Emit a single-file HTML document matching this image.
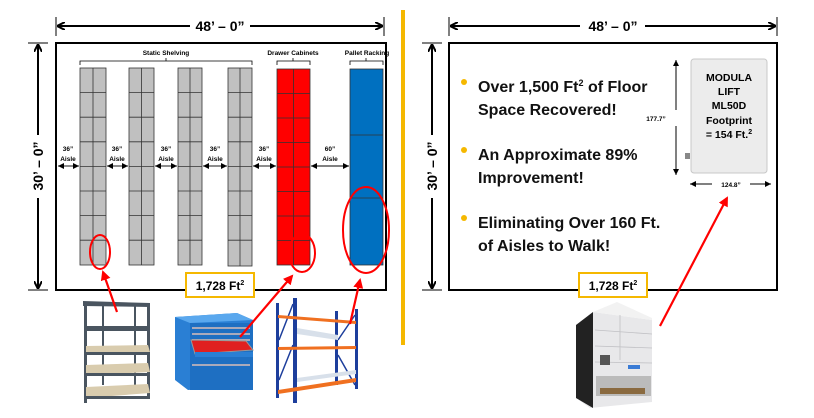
<!DOCTYPE html>
<html><head><meta charset="utf-8"><style>
html,body{margin:0;padding:0;background:#fff;width:814px;height:418px;overflow:hidden}
svg{display:block;font-family:"Liberation Sans",sans-serif}
</style></head><body>
<svg width="814" height="418" viewBox="0 0 814 418" xmlns="http://www.w3.org/2000/svg">
<defs>
<marker id="ah" markerWidth="8" markerHeight="8" refX="7" refY="4" orient="auto" markerUnits="userSpaceOnUse"><path d="M0,0 L8,4 L0,8" fill="none" stroke="#000" stroke-width="2"/></marker>
<marker id="sa" markerWidth="6" markerHeight="6" refX="6" refY="3" orient="auto" markerUnits="userSpaceOnUse"><path d="M0,0 L6,3 L0,6 Z" fill="#000"/></marker>
<marker id="ra" markerWidth="10" markerHeight="10" refX="8" refY="5" orient="auto" markerUnits="userSpaceOnUse"><path d="M0,0 L10,5 L0,10 Z" fill="#f00"/></marker>
</defs>

<rect x="401" y="10" width="4" height="335" fill="#f5b800"/>

<!-- LEFT dims -->
<line x1="56" y1="17" x2="56" y2="36" stroke="#000"/>
<line x1="384" y1="17" x2="384" y2="36" stroke="#000"/>
<path d="M190,26 L58,26" stroke="#000" stroke-width="2" marker-end="url(#ah)"/>
<path d="M250,26 L382,26" stroke="#000" stroke-width="2" marker-end="url(#ah)"/>
<text x="220" y="31" font-size="14" font-weight="bold" text-anchor="middle">48’ – 0”</text>
<line x1="28" y1="43" x2="48" y2="43" stroke="#000"/>
<line x1="28" y1="290" x2="48" y2="290" stroke="#000"/>
<path d="M38,135 L38,45" stroke="#000" stroke-width="2" marker-end="url(#ah)"/>
<path d="M38,198 L38,288" stroke="#000" stroke-width="2" marker-end="url(#ah)"/>
<text transform="translate(43,166) rotate(-90)" font-size="14" font-weight="bold" text-anchor="middle">30’ – 0”</text>

<rect x="56" y="43" width="330" height="247" fill="#fff" stroke="#000" stroke-width="2"/>

<g fill="none" stroke="#000" stroke-width="0.8">
<path d="M80,65 V61 H252 V65 M166,61 V58"/>
<path d="M277,65 V61 H310 V65 M293,61 V58"/>
<path d="M350,65 V61 H383 V65 M366,61 V58"/>
</g>
<g font-size="6.5" text-anchor="middle" font-weight="bold">
<text x="166" y="55">Static Shelving</text>
<text x="293" y="55">Drawer Cabinets</text>
<text x="367" y="55">Pallet Racking</text>
</g>

<g stroke="#333" stroke-width="0.8">
<g fill="#c0c0c0">
<rect x="80" y="68" width="26" height="197"/>
<rect x="129" y="68" width="25" height="197"/>
<rect x="178" y="68" width="24" height="197"/>
<rect x="228" y="68" width="24" height="198"/>
</g>
<rect x="277" y="69" width="33" height="196" fill="#ff0000"/>
<rect x="350" y="69" width="33" height="196" fill="#0070c0"/>
<path d="M93,68V265 M141.5,68V265 M190,68V265 M240,68V266 M293.5,69V265"/>
<path d="M80,92.6H106 M80,117.2H106 M80,141.8H106 M80,166.4H106 M80,191H106 M80,215.6H106 M80,240.2H106"/>
<path d="M129,92.6H154 M129,117.2H154 M129,141.8H154 M129,166.4H154 M129,191H154 M129,215.6H154 M129,240.2H154"/>
<path d="M178,92.6H202 M178,117.2H202 M178,141.8H202 M178,166.4H202 M178,191H202 M178,215.6H202 M178,240.2H202"/>
<path d="M228,92.6H252 M228,117.2H252 M228,141.8H252 M228,166.4H252 M228,191H252 M228,215.6H252 M228,240.2H252"/>
<path d="M277,93.5H310 M277,118H310 M277,142.5H310 M277,167H310 M277,191.5H310 M277,216H310 M277,240.5H310"/>
<path d="M350,135H383 M350,198H383"/>
</g>

<g stroke="#000" stroke-width="0.9">
<path d="M68,166H58" marker-end="url(#sa)"/><path d="M68,166H79" marker-end="url(#sa)"/>
<path d="M117,166H107" marker-end="url(#sa)"/><path d="M117,166H128" marker-end="url(#sa)"/>
<path d="M166,166H155" marker-end="url(#sa)"/><path d="M166,166H177" marker-end="url(#sa)"/>
<path d="M215,166H203" marker-end="url(#sa)"/><path d="M215,166H227" marker-end="url(#sa)"/>
<path d="M264,166H253" marker-end="url(#sa)"/><path d="M264,166H276" marker-end="url(#sa)"/>
<path d="M330,166H311" marker-end="url(#sa)"/><path d="M330,166H349" marker-end="url(#sa)"/>
</g>
<g font-size="6.5" font-weight="bold" text-anchor="middle">
<text x="68" y="151">36”</text><text x="68" y="161">Aisle</text>
<text x="117" y="151">36”</text><text x="117" y="161">Aisle</text>
<text x="166" y="151">36”</text><text x="166" y="161">Aisle</text>
<text x="215" y="151">36”</text><text x="215" y="161">Aisle</text>
<text x="264" y="151">36”</text><text x="264" y="161">Aisle</text>
<text x="330" y="151">60”</text><text x="330" y="161">Aisle</text>
</g>

<g fill="none" stroke="#f00" stroke-width="2">
<ellipse cx="100" cy="252" rx="10" ry="17"/>
<ellipse cx="302" cy="253" rx="13" ry="19"/>
<ellipse cx="366" cy="230" rx="23" ry="43"/>
</g>

<rect x="186" y="273" width="68" height="24" fill="#fff" stroke="#f5b800" stroke-width="2"/>
<text x="220" y="290" font-size="12" font-weight="bold" text-anchor="middle">1,728 Ft<tspan font-size="7" dy="-5">2</tspan></text>

<!-- shelving unit image -->
<g>
<rect x="84" y="303" width="3" height="100" fill="#4a5560"/>
<rect x="147" y="303" width="3" height="96" fill="#4a5560"/>
<rect x="102" y="305" width="2" height="80" fill="#4a5560"/>
<rect x="134" y="305" width="2" height="80" fill="#4a5560"/>
<polygon points="83,301 150,303 150,307 83,306" fill="#4a5560"/>
<polygon points="84,326 150,326 150,331 84,331" fill="#4a5560"/>
<polygon points="86,346 148,345 150,352 86,354" fill="#d9ccae"/><rect x="86" y="352" width="64" height="3" fill="#4a5560"/>
<polygon points="86,365 148,363 150,372 86,375" fill="#d9ccae"/><rect x="86" y="373" width="64" height="3" fill="#4a5560"/>
<polygon points="86,387 148,384 150,393 86,398" fill="#d9ccae"/><rect x="86" y="396" width="64" height="3" fill="#4a5560"/>
</g>

<!-- drawer cabinet -->
<g>
<polygon points="175,317 237,313 253,320 253,385 188,390 175,380" fill="#2a7fd4"/>
<polygon points="175,317 237,313 253,320 190,323" fill="#5aa8ee"/>
<rect x="190" y="323" width="63" height="67" fill="#1e6fc2"/>
<g fill="#aab"><rect x="192" y="327" width="58" height="2"/><rect x="192" y="333" width="58" height="2"/><rect x="192" y="339" width="58" height="2"/><rect x="192" y="364" width="58" height="2"/></g>
<polygon points="191,340 246,341 253,350 195,354" fill="#e02020" stroke="#999" stroke-width="1"/>
<rect x="195" y="352" width="58" height="5" fill="#2a7fd4"/>
</g>

<!-- pallet rack -->
<g>
<rect x="276" y="303" width="3" height="95" fill="#1d3e9c"/>
<rect x="293" y="298" width="4" height="105" fill="#1d3e9c"/>
<rect x="335" y="311" width="3" height="74" fill="#1d3e9c"/>
<rect x="355" y="309" width="3" height="80" fill="#1d3e9c"/>
<path d="M279,340 L293,304 M279,380 L293,345 M338,340 L355,315 M338,355 L355,385" stroke="#1d3e9c" stroke-width="1.5"/>
<polygon points="278,315 356,321 356,324 278,318" fill="#f07020"/>
<polygon points="297,328 338,335 338,340 297,334" fill="#d8e0ea"/>
<polygon points="278,347 356,346 356,349 278,350" fill="#f07020"/>
<polygon points="297,378 356,370 356,374 297,382" fill="#d8e0ea"/>
<polygon points="278,390 356,378 356,382 278,394" fill="#f07020"/>
</g>

<!-- RIGHT dims -->
<line x1="449" y1="17" x2="449" y2="36" stroke="#000"/>
<line x1="777" y1="17" x2="777" y2="36" stroke="#000"/>
<path d="M580,26 L451,26" stroke="#000" stroke-width="2" marker-end="url(#ah)"/>
<path d="M645,26 L775,26" stroke="#000" stroke-width="2" marker-end="url(#ah)"/>
<text x="613" y="31" font-size="14" font-weight="bold" text-anchor="middle">48’ – 0”</text>
<line x1="422" y1="43" x2="442" y2="43" stroke="#000"/>
<line x1="422" y1="290" x2="442" y2="290" stroke="#000"/>
<path d="M432,135 L432,45" stroke="#000" stroke-width="2" marker-end="url(#ah)"/>
<path d="M432,198 L432,288" stroke="#000" stroke-width="2" marker-end="url(#ah)"/>
<text transform="translate(437,166) rotate(-90)" font-size="14" font-weight="bold" text-anchor="middle">30’ – 0”</text>

<rect x="449" y="43" width="328" height="247" fill="#fff" stroke="#000" stroke-width="2"/>

<g fill="#f5b800"><circle cx="464" cy="82" r="3"/><circle cx="464" cy="150" r="3"/><circle cx="464" cy="218" r="3"/></g>
<g font-size="16" font-weight="bold" fill="#111">
<text x="478" y="92">Over 1,500 Ft<tspan font-size="9" dy="-6">2</tspan><tspan dy="6"> of Floor</tspan></text>
<text x="478" y="115">Space Recovered!</text>
<text x="478" y="160">An Approximate 89%</text>
<text x="478" y="183">Improvement!</text>
<text x="478" y="228">Eliminating Over 160 Ft.</text>
<text x="478" y="251">of Aisles to Walk!</text>
</g>

<rect x="691" y="59" width="76" height="114" rx="3" fill="#ececec" stroke="#c8c8c8"/>
<rect x="685" y="153" width="5" height="6" fill="#888"/>
<g font-size="10.5" font-weight="bold" text-anchor="middle">
<text x="729" y="81">MODULA</text>
<text x="729" y="95">LIFT</text>
<text x="729" y="109">ML50D</text>
<text x="729" y="124">Footprint</text>
<text x="729" y="138">= 154 Ft.<tspan font-size="7" dy="-4">2</tspan></text>
</g>
<path d="M676,110 L676,60" stroke="#000" stroke-width="1" marker-end="url(#sa)"/>
<path d="M676,126 L676,175" stroke="#000" stroke-width="1" marker-end="url(#sa)"/>
<text x="656" y="121" font-size="6.5" font-weight="bold" text-anchor="middle">177.7”</text>
<path d="M712,184 L690,184" stroke="#000" stroke-width="1" marker-end="url(#sa)"/>
<path d="M750,184 L771,184" stroke="#000" stroke-width="1" marker-end="url(#sa)"/>
<text x="731" y="187" font-size="6.5" font-weight="bold" text-anchor="middle">124.8”</text>

<rect x="579" y="273" width="68" height="24" fill="#fff" stroke="#f5b800" stroke-width="2"/>
<text x="613" y="290" font-size="12" font-weight="bold" text-anchor="middle">1,728 Ft<tspan font-size="7" dy="-5">2</tspan></text>

<!-- modula machine -->
<g>
<polygon points="576,325 593,312 652,320 652,402 590,408 576,398" fill="#e8e8ea"/>
<polygon points="576,325 593,312 593,408 576,398" fill="#222"/>
<polygon points="593,312 617,302 652,318 652,320" fill="#f2f2f2"/>
<g stroke="#c0c0c4" stroke-width="0.8"><path d="M595,330 L652,334 M595,346 L652,348 M595,362 L652,363 M620,315 V360"/></g>
<rect x="596" y="376" width="55" height="20" fill="#bbb"/>
<rect x="600" y="388" width="45" height="6" fill="#8a6a40"/>
<rect x="628" y="365" width="12" height="4" fill="#3a7bd5"/>
<rect x="600" y="355" width="10" height="10" fill="#555"/>
</g>

<!-- red arrows (on top) -->
<g stroke="#f00" stroke-width="2.2">
<path d="M117,312 L103,272" marker-end="url(#ra)"/>
<path d="M240,337 L292,276" marker-end="url(#ra)"/>
<path d="M350,324 L360,280" marker-end="url(#ra)"/>
<path d="M660,326 L727,198" marker-end="url(#ra)"/>
</g>
</svg>
</body></html>
